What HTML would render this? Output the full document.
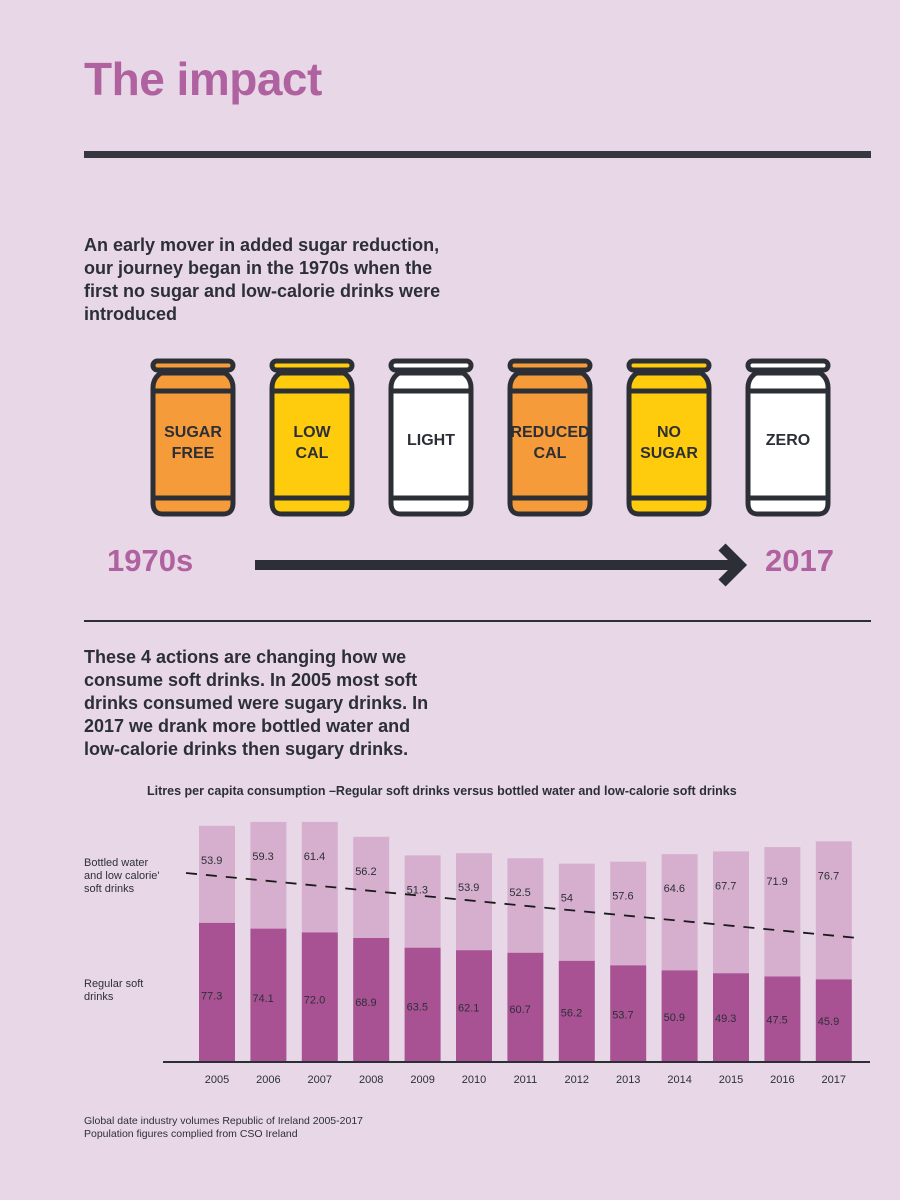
<!DOCTYPE html>
<html><head><meta charset="utf-8"><style>
body{margin:0;background:#e8d8e7;font-family:"Liberation Sans",sans-serif;}
#page{position:relative;width:900px;height:1200px;overflow:hidden;background:#e8d8e7;}
.abs{position:absolute;}
h1{position:absolute;left:84px;top:52px;margin:0;font-size:46px;color:#b0619f;font-weight:bold;letter-spacing:-0.5px}
.intro{font-size:18px;font-weight:bold;color:#2c2f36;line-height:23px}
.can-text{font-weight:bold;fill:#2c2f36;font-size:16px;text-anchor:middle;font-family:"Liberation Sans",sans-serif}
</style></head><body>
<div id="page">
<h1>The impact</h1>
<div class="abs" style="left:84px;top:151px;width:787px;height:7px;background:#36383d"></div>
<div class="abs intro" style="left:84px;top:234px;width:385px">An early mover in added sugar reduction, our journey began in the 1970s when the first no sugar and low-calorie drinks were introduced</div>

<svg class="abs" style="left:0;top:340px" width="900" height="260">
<g id="cans"></g>
<text x="107" y="231" font-size="31" font-weight="bold" fill="#b0619f" font-family="Liberation Sans">1970s</text>
<text x="765" y="231" font-size="31" font-weight="bold" fill="#b0619f" font-family="Liberation Sans">2017</text>
<line x1="255" y1="225" x2="735" y2="225" stroke="#2c2f36" stroke-width="10"/>
<polyline points="722,207 740,225 722,243" fill="none" stroke="#2c2f36" stroke-width="10"/>
</svg>

<div class="abs" style="left:84px;top:620px;width:787px;height:2px;background:#2c2f36"></div>
<div class="abs intro" style="left:84px;top:646px;width:365px;font-size:18px">These 4 actions are changing how we consume soft drinks. In 2005 most soft drinks consumed were sugary drinks. In 2017 we drank more bottled water and low-calorie drinks then sugary drinks.</div>

<div class="abs" style="left:147px;top:784px;font-size:12.5px;font-weight:bold;color:#2c2f36">Litres per capita consumption –Regular soft drinks versus bottled water and low-calorie soft drinks</div>
<div class="abs" style="left:84px;top:857px;font-size:11px;color:#2c2f36;line-height:13px">Bottled water<br>and low calorie'<br>soft drinks</div>
<div class="abs" style="left:84px;top:978px;font-size:11px;color:#2c2f36;line-height:13px">Regular soft<br>drinks</div>
<svg class="abs" style="left:0;top:0" width="900" height="1100" id="chart"></svg>
<div class="abs" style="left:84px;top:1115px;font-size:10.5px;color:#2c2f36;line-height:13px">Global date industry volumes Republic of Ireland 2005-2017<br>Population figures complied from CSO Ireland</div>
</div>
<script>
const years=["2005","2006","2007","2008","2009","2010","2011","2012","2013","2014","2015","2016","2017"];
const regular=[77.3,74.1,72.0,68.9,63.5,62.1,60.7,56.2,53.7,50.9,49.3,47.5,45.9];
const regularLabels=["77.3","74.1","72.0","68.9","63.5","62.1","60.7","56.2","53.7","50.9","49.3","47.5","45.9"];
const water=[53.9,59.3,61.4,56.2,51.3,53.9,52.5,54,57.6,64.6,67.7,71.9,76.7];
const waterLabels=["53.9","59.3","61.4","56.2","51.3","53.9","52.5","54","57.6","64.6","67.7","71.9","76.7"];
const canLabels=[["SUGAR","FREE"],["LOW","CAL"],["LIGHT"],["REDUCED","CAL"],["NO","SUGAR"],["ZERO"]];
const canColors=["#f59b3a","#fecb0d","#ffffff","#f59b3a","#fecb0d","#ffffff"];
const NS="http://www.w3.org/2000/svg";
function mk(p,t,a){const e=document.createElementNS(NS,t);for(const k in a)e.setAttribute(k,a[k]);p.appendChild(e);return e;}
const cg=document.getElementById('cans');
canLabels.forEach((lab,i)=>{
 const cx=193+i*119;
 const g=mk(cg,'g',{});
 
 
 mk(g,'rect',{x:cx-40,y:21,width:80,height:9,rx:4.5,fill:canColors[i],stroke:'#2c2f36','stroke-width':5});
 mk(g,'path',{d:`M${cx-32},33 L${cx+32},33 Q${cx+40},38 ${cx+40},48 L${cx+40},163 Q${cx+40},174 ${cx+30},174 L${cx-30},174 Q${cx-40},174 ${cx-40},163 L${cx-40},48 Q${cx-40},38 ${cx-32},33 Z`,fill:canColors[i],stroke:'#2c2f36','stroke-width':5});
 mk(g,'line',{x1:cx-40,y1:51,x2:cx+40,y2:51,stroke:'#2c2f36','stroke-width':5});
 mk(g,'line',{x1:cx-40,y1:158,x2:cx+40,y2:158,stroke:'#2c2f36','stroke-width':5});
 const fs=lab[0].length>5?13:16;
 lab.forEach((w,j)=>{
  const t=mk(g,'text',{x:cx,y:(lab.length==1?105:97+j*21),class:'can-text','font-size':fs});
  t.textContent=w;
 });
});
const svg=document.getElementById('chart');
const baseY=1062, scale=1.8, x0=199, step=51.4, bw=36;
const xOf=i=>x0+i*step, yOf=v=>baseY-v*scale;
years.forEach((y,i)=>{
 const x=xOf(i);
 const rTop=yOf(regular[i]); const wTop=yOf(regular[i]+water[i]);
 const rw=mk(svg,'rect',{x:x,y:wTop,width:bw,height:rTop-wTop,fill:'#d6afcf'});
 
 
 const rr=mk(svg,'rect',{x:x,y:rTop,width:bw,height:baseY-rTop,fill:'#a85294'});
 
 
 const t1=mk(svg,'text',{x:x+2,y:wTop+38,'font-size':11,fill:'#2c2f36','font-family':'Liberation Sans'});t1.textContent=waterLabels[i];
 
 
 const t2=mk(svg,'text',{x:x+2,y:rTop+(baseY-rTop)*0.55,'font-size':11,fill:'#2c2f36','font-family':'Liberation Sans'});t2.textContent=regularLabels[i];
 
 
 const t3=mk(svg,'text',{x:x+bw/2,y:1083,'font-size':11,fill:'#2c2f36','text-anchor':'middle','font-family':'Liberation Sans'});t3.textContent=y;
 
 
});
const ax=mk(svg,'line',{x1:163,y1:baseY,x2:870,y2:baseY,stroke:'#2c2f36','stroke-width':2});


const tr=mk(svg,'line',{x1:186,y1:873,x2:858,y2:938,stroke:'#1a1a1a','stroke-width':1.8,'stroke-dasharray':'11,9'});


</script>
</body></html>
